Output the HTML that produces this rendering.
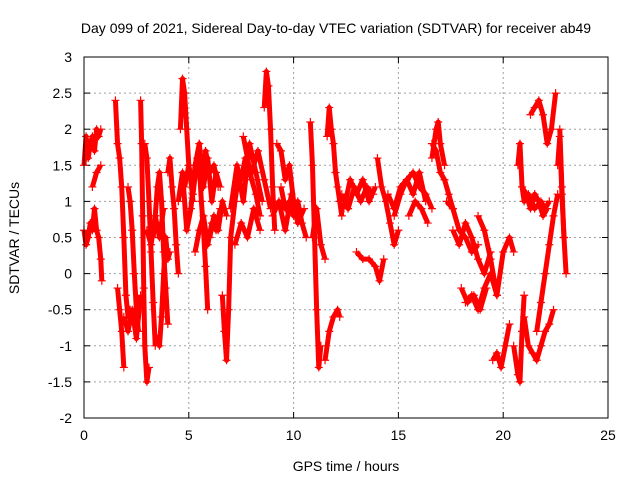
<!DOCTYPE html>
<html><head><meta charset="utf-8"><style>
html,body{margin:0;padding:0;background:#fff;}
svg{display:block;font-family:"Liberation Sans",sans-serif;}
</style></head><body>
<svg id="chart" width="640" height="480">
<text x="336" y="33" font-size="14" text-anchor="middle">Day 099 of 2021, Sidereal Day-to-day VTEC variation (SDTVAR) for receiver ab49</text>
<text x="346" y="471" font-size="14" text-anchor="middle">GPS time / hours</text>
<text transform="translate(19,238) rotate(-90)" font-size="14" text-anchor="middle">SDTVAR / TECUs</text>
<g id="grid"></g><g id="marks"></g>
<rect x="84" y="57" width="524" height="361" fill="none" stroke="#000" stroke-width="1"/>
</svg>
<script>
const xTicks=[0,5,10,15,20,25];
const yTicks=[-2,-1.5,-1,-0.5,0,0.5,1,1.5,2,2.5,3];
const yTickLabels=["-2","-1.5","-1","-0.5","0","0.5","1","1.5","2","2.5","3"];
const trackTimes=[
[0,0.1,0.2,0.3,0.4,0.5,0.6,0.7,0.8],
[0,0.1,0.2,0.3,0.4,0.5,0.6,0.7,0.8,0.85],
[1.5,1.6,1.7,1.8,1.9,2.0,2.1,2.2],
[1.6,1.7,1.8,1.9],
[2.1,2.2,2.3,2.4,2.5,2.6],
[2.7,2.75,2.8,2.85,2.9,3.0,3.1],
[2.9,3.0,3.1,3.2,3.3,3.4],
[3.3,3.4,3.5,3.6,3.7,3.8,3.9,4.0],
[3.5,3.6,3.7,3.8,3.9,4.0,4.1],
[4.0,4.1,4.2,4.3,4.4,4.5],
[4.6,4.7,4.8,4.9,5.0,5.1,5.2],
[4.5,4.7,4.9,5.1,5.3,5.5,5.7,5.9,6.1,6.3,6.5],
[5.3,5.5,5.7,5.9,6.1,6.3,6.5],
[5.5,5.6,5.7,5.8,5.9],
[6.6,6.7,6.8,6.9,7.0,7.2,7.4],
[7.0,7.3,7.6,7.9,8.2,8.5],
[7.2,7.5,7.8,8.1,8.4],
[8.6,8.7,8.8,8.9,9.0,9.1],
[9.0,9.3,9.6,9.9,10.2,10.5],
[9.2,9.4,9.6,9.8,10.0],
[10.8,10.9,11.0,11.1,11.2,11.3],
[10.9,11.1,11.3,11.5],
[11.6,11.7,11.8,11.9,12.0,12.1,12.2,12.3],
[11.5,11.7,11.9,12.1,12.2],
[12.3,12.6,12.9,13.2,13.5,13.8],
[13.0,13.3,13.6,13.9,14.1,14.3],
[14.0,14.2,14.4,14.6,14.8,15.0],
[14.8,15.1,15.4,15.7,16.0,16.3,16.6],
[15.5,15.8,16.1,16.4],
[16.6,16.8,16.9,17.0,17.2],
[17.3,17.6,17.9,18.2,18.5,18.8],
[18.0,18.3,18.6,18.9,19.2],
[18.8,19.1,19.4,19.7,20.0,20.3,20.5],
[19.5,19.7,19.9,20.1,20.3],
[20.5,20.7,20.8,20.9,21.0],
[20.7,20.8,20.9,21.0,21.2,21.5,21.8,22.0,22.2],
[21.0,21.2,21.4,21.6,21.8,22.0,22.2,22.4],
[21.6,21.8,22.0,22.2,22.4,22.6],
[21.3,21.5,21.7,21.9,22.1,22.3,22.5],
[22.7,22.8,22.9,23.0],
[4.8,5.0,5.2,5.4,5.6,5.8,6.0,6.2,6.4],
[6.0,6.2,6.4,6.6,6.8],
[7.4,7.7,8.0,8.3,8.6,8.9],
[7.6,7.8,8.0,8.2,8.4],
[9.4,9.6,9.8,10.0,10.2,10.4,10.6],
[12.4,12.7,13.0,13.3,13.6,13.9],
[14.5,14.8,15.1,15.4,15.7,16.0,16.3],
[16.6,16.8,17.0,17.2,17.4,17.6],
[17.6,17.9,18.2,18.5,18.8,19.1,19.4],
[18.2,18.5,18.8,19.1,19.4,19.7],
[20.9,21.1,21.3,21.5,21.7,21.9,22.1],
[22.6,22.7,22.8,22.9],
[0.4,0.6,0.8],
[3.0,3.2,3.4,3.6,3.8],
[1.9,2.1,2.3,2.5,2.7]];
const trackValues=[
[1.5,1.9,1.6,1.8,1.9,1.7,2.0,1.9,2.0],
[0.6,0.4,0.5,0.7,0.6,0.9,0.6,0.5,0.2,-0.1],
[2.4,1.8,1.6,1.2,0.5,-0.3,-0.6,-0.5],
[-0.2,-0.5,-0.8,-1.3],
[1.2,1.0,0.6,0.0,-0.5,-0.8],
[2.4,1.8,0.8,-0.2,-1.0,-1.5,-1.3],
[1.8,1.6,1.0,0.3,-0.4,-1.0],
[0.5,0.8,1.2,1.4,1.0,0.3,-0.2,-0.7],
[-0.9,-1.0,-0.6,0.0,0.5,0.2,0.3],
[1.4,1.6,1.2,0.9,0.4,0.0],
[2.0,2.7,2.5,2.0,1.5,1.3,1.0],
[1.0,1.4,0.6,0.9,1.5,1.8,1.2,1.6,1.0,1.4,1.2],
[0.3,0.6,0.8,0.4,0.7,0.6,0.9],
[1.5,1.0,0.6,0.1,-0.5],
[-0.3,-0.8,-1.2,-0.5,0.5,1.0,1.4],
[0.9,1.5,1.0,1.8,1.4,1.0],
[0.4,0.7,0.5,0.9,0.6],
[2.3,2.8,2.6,2.0,1.2,0.6],
[0.8,1.0,0.6,1.1,0.7,0.9],
[1.8,1.7,1.3,1.5,1.0],
[2.1,1.5,0.5,-0.5,-1.3,-1.0],
[0.5,0.9,0.4,0.2],
[1.9,2.3,2.0,1.8,1.4,1.2,1.0,0.8],
[-1.2,-0.8,-0.6,-0.5,-0.6],
[1.1,0.9,1.2,1.0,1.2,1.1],
[0.3,0.2,0.2,0.1,-0.1,0.2],
[1.6,1.2,1.0,0.7,0.4,0.6],
[0.8,1.1,1.3,1.4,1.2,1.1,0.9],
[0.8,1.0,0.9,0.7],
[1.6,2.0,2.1,1.8,1.5],
[1.0,0.9,0.6,0.5,0.3,0.4],
[-0.2,-0.4,-0.3,-0.5,-0.2],
[0.8,0.6,0.2,-0.3,0.3,0.5,0.3],
[-1.2,-1.1,-1.3,-1.0,-0.7],
[-1.0,-1.4,-1.5,-0.8,-0.3],
[1.5,1.8,1.2,1.0,1.1,0.9,1.0,0.9,1.0],
[-0.6,-1.0,-1.1,-1.2,-1.0,-0.8,-0.7,-0.5],
[-0.8,-0.4,0.0,0.4,0.8,1.1],
[2.2,2.3,2.4,2.2,1.8,2.0,2.5],
[2.0,1.2,0.5,0.0],
[1.2,1.5,1.1,1.6,1.3,1.7,1.4,1.5,1.2],
[0.5,0.8,0.6,1.0,0.8],
[1.2,1.6,1.4,1.7,1.3,0.9],
[1.9,1.6,1.3,1.1,0.8],
[1.2,0.9,1.0,0.8,1.0,0.7,0.5],
[0.9,1.3,1.1,1.3,1.0,1.2],
[1.1,0.9,1.2,1.3,1.1,1.4,1.0],
[1.8,1.7,1.4,1.3,1.1,0.9],
[0.6,0.4,0.7,0.5,0.2,0.0,0.3],
[-0.4,-0.3,-0.5,-0.2,0.0,-0.3],
[1.2,1.1,0.9,1.1,1.0,0.8,0.9],
[1.5,1.9,1.1,0.5],
[1.2,1.4,1.5],
[0.6,0.4,0.8,0.5,0.9],
[-0.6,-0.8,-0.5,-0.9,-0.3]];

const NS="http://www.w3.org/2000/svg";
const X0=84,X1=608,Y0=418,Y1=57;
function xs(t){return X0+(t-0)/(25-0)*(X1-X0);}
function ys(v){return Y0-(v-(-2))/(3-(-2))*(Y0-Y1);}
function mk(tag,attrs,parent){const e=document.createElementNS(NS,tag);for(const k in attrs)e.setAttribute(k,attrs[k]);parent.appendChild(e);return e;}
const grid=document.getElementById('grid');
xTicks.forEach(t=>{
  const x=xs(t);
  if(t>0&&t<25){const g=mk('line',{x1:x,x2:x,y1:Y1,y2:Y0,stroke:'#a0a0a0','stroke-dasharray':'2,3'},grid);
  
  }
  mk('line',{x1:x,x2:x,y1:Y0,y2:Y0-6,stroke:'#000'},grid);
  mk('line',{x1:x,x2:x,y1:Y1,y2:Y1+6,stroke:'#000'},grid);
  const tx=mk('text',{x:x,y:Y0+22,'font-size':14,'text-anchor':'middle'},grid);
  tx.textContent=String(t);
  
  
});
yTicks.forEach((v,i)=>{
  const y=ys(v);
  if(v>-2&&v<3){const g=mk('line',{x1:X0,x2:X1,y1:y,y2:y,stroke:'#a0a0a0','stroke-dasharray':'2,3'},grid);
  
  }
  mk('line',{x1:X0,x2:X0+6,y1:y,y2:y,stroke:'#000'},grid);
  mk('line',{x1:X1,x2:X1-6,y1:y,y2:y,stroke:'#000'},grid);
  const tx=mk('text',{x:X0-12,y:y+5,'font-size':14,'text-anchor':'end'},grid);
  tx.textContent=yTickLabels[i];
  
  
});
const marks=document.getElementById('marks');
trackTimes.forEach((ts,k)=>{
  const vs=trackValues[k];
  const pts=ts.map((t,i)=>xs(t)+','+ys(vs[i])).join(' ');
  const pl=mk('polyline',{points:pts,fill:'none',stroke:'#ff0000','stroke-width':5,'stroke-linejoin':'round'},marks);
  
  
  ts.forEach((t,i)=>{
    const x=xs(t),y=ys(vs[i]);
    const p=mk('path',{d:`M${x-4},${y}H${x+4}M${x},${y-4}V${y+4}`,stroke:'#ff0000','stroke-width':1.2},marks);
    
    
  });
});
</script>
</body></html>
